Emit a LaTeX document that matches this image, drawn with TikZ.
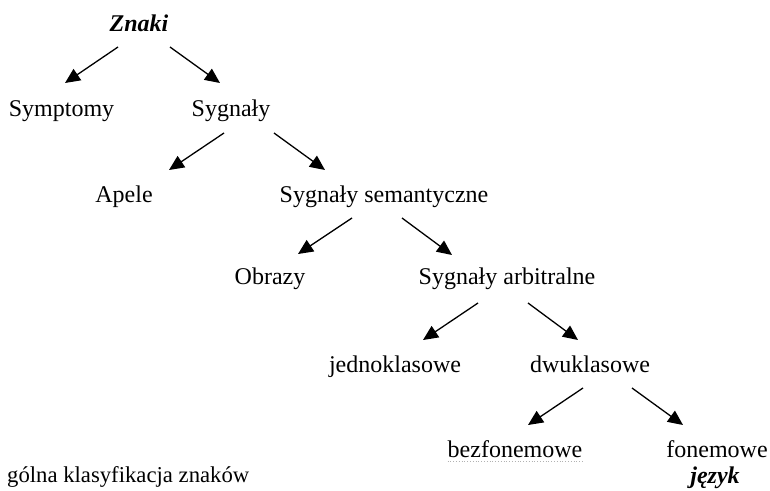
\documentclass[tikz,border=0pt]{standalone}
\usepackage{fontspec}
\setmainfont{Liberation Serif}
\usetikzlibrary{arrows.meta}
\begin{document}
\begin{tikzpicture}[x=1pt,y=-1pt,
  lbl/.style={inner sep=0pt,anchor=base,font=\fontsize{24}{28}\selectfont},
  key/.style={lbl,font=\fontsize{24}{28}\selectfont\bfseries\itshape},
  captiontext/.style={inner sep=0pt,anchor=base west,font=\fontsize{22.7}{27}\selectfont},
  link/.style={line width=1.3pt,-{Triangle[length=15pt,width=13.5pt]}},
  squiggle/.style={gray!60,line width=0.8pt,dotted}]
  \useasboundingbox (0,0) rectangle (770,490);

  % tree labels
  \node[key] (znaki)  at (139,31)  {Znaki};
  \node[lbl] (symp)   at (61.5,116) {Symptomy};
  \node[lbl] (sygn)   at (231,116) {Sygnały};
  \node[lbl] (apele)  at (124,202) {Apele};
  \node[lbl] (sem)    at (384,202) {Sygnały semantyczne};
  \node[lbl] (obrazy) at (270,284) {Obrazy};
  \node[lbl] (arb)    at (507,284) {Sygnały arbitralne};
  \node[lbl] (jedno)  at (395,372) {jednoklasowe};
  \node[lbl] (dwu)    at (590,372) {dwuklasowe};
  \node[lbl] (bez)    at (515,457) {bezfonemowe};
  \node[lbl] (fon)    at (717,457) {fonemowe};
  \node[key] (jezyk)  at (715,483) {język};
  \node[captiontext] (caption) at (7,482) {gólna klasyfikacja znaków};

  % dotted mark under "bezfonemowe"
  \draw[squiggle] ([yshift=-4pt]bez.base west) -- ([yshift=-4pt]bez.base east);

  % branches
  \draw[link] ([shift={(-21,16)}]znaki.base) -- ([shift={(3.5,-33)}]symp.base);
  \draw[link] ([shift={(31,16)}]znaki.base)  -- ([shift={(-11,-33)}]sygn.base);
  \draw[link] ([shift={(-7,17)}]sygn.base)   -- ([shift={(45,-32)}]apele.base);
  \draw[link] ([shift={(43,17)}]sygn.base)   -- ([shift={(-59,-32)}]sem.base);
  \draw[link] ([shift={(-32,16)}]sem.base)   -- ([shift={(28,-30)}]obrazy.base);
  \draw[link] ([shift={(18,16)}]sem.base)    -- ([shift={(-55,-29)}]arb.base);
  \draw[link] ([shift={(-29,19)}]arb.base)   -- ([shift={(28,-32)}]jedno.base);
  \draw[link] ([shift={(21,19)}]arb.base)    -- ([shift={(-12,-32)}]dwu.base);
  \draw[link] ([shift={(-7,16)}]dwu.base)    -- ([shift={(13,-32)}]bez.base);
  \draw[link] ([shift={(42,16)}]dwu.base)    -- ([shift={(-34,-32)}]fon.base);
\end{tikzpicture}
\end{document}
